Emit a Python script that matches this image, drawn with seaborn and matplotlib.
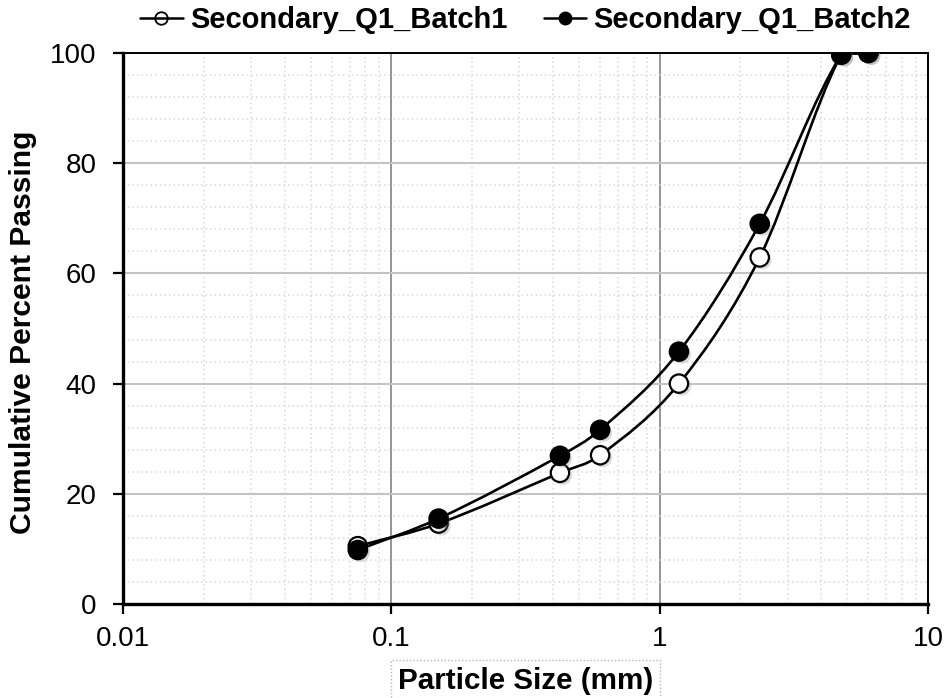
import numpy as np
import matplotlib
matplotlib.use("Agg")
import matplotlib.pyplot as plt
import matplotlib.patheffects as pe
import pandas as pd
import seaborn as sns
from matplotlib.path import Path
from matplotlib.patches import PathPatch
from matplotlib.lines import Line2D
from matplotlib.ticker import LogLocator, MultipleLocator, FixedLocator, FixedFormatter

# Sieve analysis: cumulative percent passing per sieve opening (mm)
sieve_mm = [0.075, 0.15, 0.425, 0.6, 1.18, 2.36, 4.75, 6.0]
batch1 = [10.5, 14.6, 23.8, 27.0, 40.0, 62.9, 99.7, 100.0]
batch2 = [9.8, 15.5, 26.9, 31.6, 45.8, 69.0, 99.7, 100.0]
series_names = ["Secondary_Q1_Batch1", "Secondary_Q1_Batch2"]
x_ticks = [0.01, 0.1, 1, 10]
x_tick_labels = ["0.01", "0.1", "1", "10"]
y_ticks = [0, 20, 40, 60, 80, 100]

sns.set_theme(style="white")
plt.rcParams["font.family"] = ["Liberation Sans", "DejaVu Sans"]
plt.rcParams["text.color"] = "black"
plt.rcParams["axes.labelcolor"] = "black"
plt.rcParams["xtick.color"] = "black"
plt.rcParams["ytick.color"] = "black"

df = pd.DataFrame({
    "size": sieve_mm + sieve_mm,
    "passing": batch1 + batch2,
    "series": [series_names[0]] * len(sieve_mm) + [series_names[1]] * len(sieve_mm),
})

fig = plt.figure(figsize=(9.53, 6.98), dpi=100)
ax = fig.add_axes([123 / 953, 1 - 604 / 698, (928 - 123) / 953, (604 - 53) / 698])
ax.set_xscale("log")
ax.set_xlim(0.01, 10)
ax.set_ylim(0, 100)


def smooth_path(xs, ys, ymax=100.0):
    """Cubic Bezier path through the points, tangents from neighbouring points in log-x space."""
    lx = np.log10(np.asarray(xs, float))
    y = np.asarray(ys, float)
    n = len(lx)
    slopes = np.empty(n)
    slopes[0] = (y[1] - y[0]) / (lx[1] - lx[0])
    slopes[-1] = (y[-1] - y[-2]) / (lx[-1] - lx[-2])
    for i in range(1, n - 1):
        slopes[i] = (y[i + 1] - y[i - 1]) / (lx[i + 1] - lx[i - 1])
    verts = [(lx[0], y[0])]
    codes = [Path.MOVETO]
    for i in range(n - 1):
        h = lx[i + 1] - lx[i]
        c1 = (lx[i] + h / 3, min(y[i] + slopes[i] * h / 3, ymax))
        c2 = (lx[i + 1] - h / 3, min(y[i + 1] - slopes[i + 1] * h / 3, ymax))
        verts += [c1, c2, (lx[i + 1], y[i + 1])]
        codes += [Path.CURVE4] * 3
    return Path([(10 ** vx, vy) for vx, vy in verts], codes)


shadow = [pe.SimplePatchShadow(offset=(2, -2), shadow_rgbFace="#888888", alpha=0.3), pe.Normal()]

for name, faces, z in [(series_names[0], "white", 4), (series_names[1], "black", 5)]:
    sub = df[df["series"] == name]
    ax.add_patch(PathPatch(smooth_path(sub["size"], sub["passing"]), facecolor="none",
                           edgecolor="black", lw=1.9, zorder=3))
    sns.scatterplot(data=sub, x="size", y="passing", ax=ax, s=175, color=faces,
                    edgecolor="black", linewidth=1.6, zorder=z, legend=False)
    ax.collections[-1].set_path_effects(shadow)

# grid
ax.xaxis.set_major_locator(FixedLocator(x_ticks))
ax.xaxis.set_major_formatter(FixedFormatter(x_tick_labels))
ax.xaxis.set_minor_locator(LogLocator(base=10, subs=range(2, 10)))
ax.yaxis.set_major_locator(FixedLocator(y_ticks))
ax.yaxis.set_minor_locator(MultipleLocator(4))
ax.grid(which="major", axis="x", color="#8c8c8c", lw=1.3, zorder=1)
ax.grid(which="major", axis="y", color="#c4c4c4", lw=1.5, zorder=1)
ax.grid(which="minor", axis="both", color="#d9d9d9", lw=1.1, ls=(0, (1, 2)), zorder=0)
ax.set_axisbelow(True)

for side in ["left", "bottom"]:
    ax.spines[side].set_linewidth(2.4)
    ax.spines[side].set_color("black")
for side in ["top", "right"]:
    ax.spines[side].set_linewidth(1.4)
    ax.spines[side].set_color("black")
    ax.spines[side].set_visible(True)

ax.tick_params(which="major", axis="y", direction="out", length=7, width=1.6, color="black",
               labelsize=20, labelcolor="black", pad=12, left=True)
ax.tick_params(which="major", axis="x", direction="out", length=7, width=1.6, color="black",
               labelsize=20, labelcolor="black", pad=9, bottom=True)
ax.tick_params(which="minor", length=0)

ax.set_xlabel("Particle Size (mm)", fontsize=21.3, fontweight="bold", color="black",
              bbox=dict(boxstyle="square,pad=0.22", facecolor="none", edgecolor="#b5b5b5",
                        linestyle=(0, (1, 1.5)), linewidth=1))
ax.xaxis.label.set_va("center")
ax.xaxis.set_label_coords(0.5, (604 - 681) / 551)
ax.set_ylabel("Cumulative Percent Passing", fontsize=21.6, fontweight="bold", color="black")
ax.yaxis.label.set_va("center")
ax.yaxis.set_label_coords((23 - 123) / 805, (604 - 332) / 551)

handles = [
    Line2D([], [], color="black", lw=1.8, marker="o", markersize=9, markerfacecolor="none",
           markeredgecolor="black", markeredgewidth=1.3),
    Line2D([], [], color="black", lw=1.8, marker="o", markersize=9, markerfacecolor="black",
           markeredgecolor="black"),
]
leg = ax.legend(handles, series_names, loc="center", bbox_to_anchor=(0.5, 1 + (53 - 20) / 551),
                ncol=2, frameon=False, prop={"weight": "bold", "size": 21}, handlelength=1.45,
                handletextpad=0.25, columnspacing=1.25, borderaxespad=0)
for t in leg.get_texts():
    t.set_color("black")

fig.savefig("out.png", dpi=100, facecolor="white")
